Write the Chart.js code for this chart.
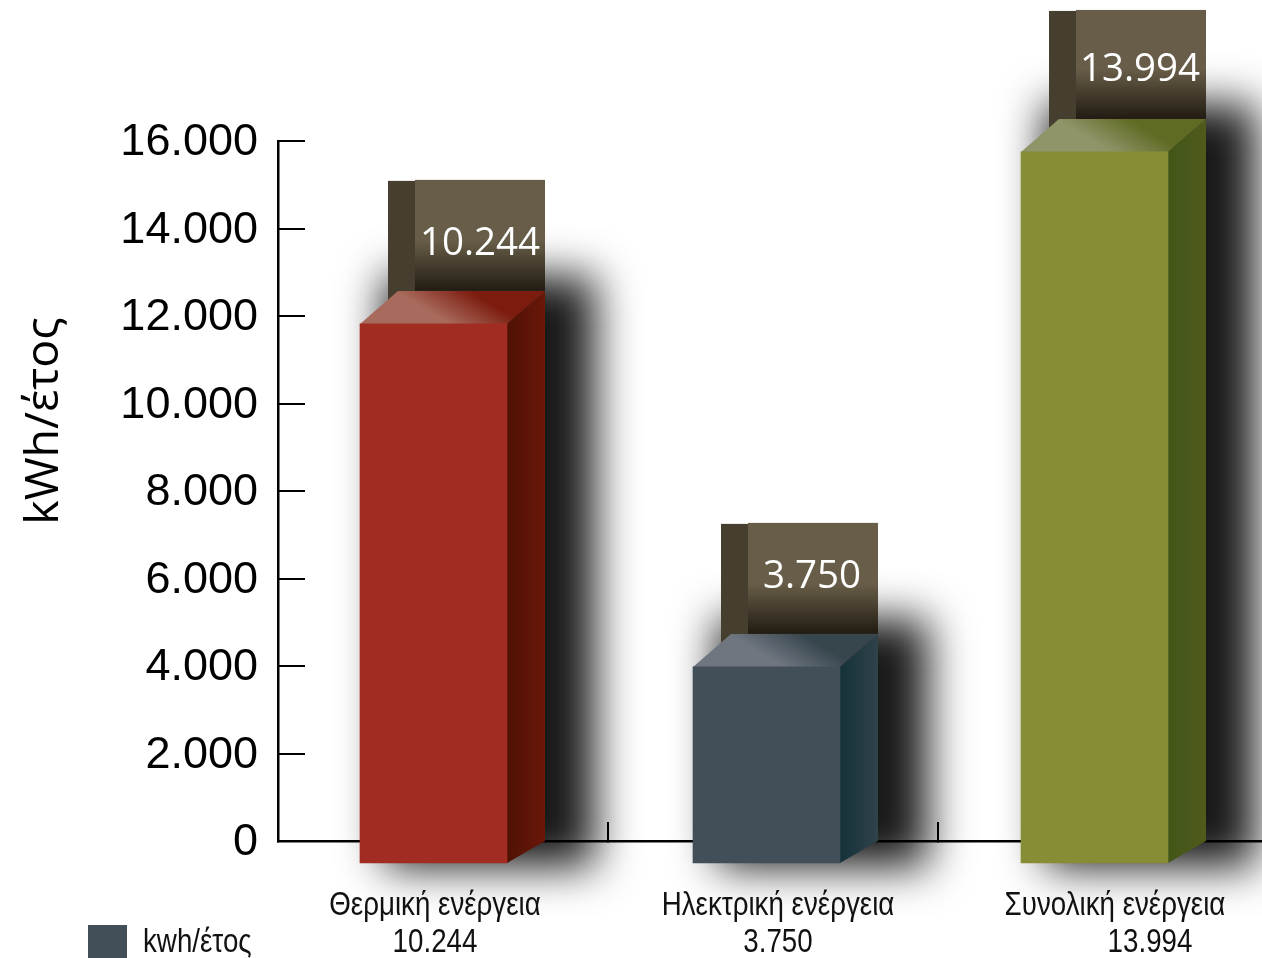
<!DOCTYPE html>
<html>
<head>
<meta charset="utf-8">
<title>kWh/έτος</title>
<script src="https://cdn.jsdelivr.net/npm/chart.js@4"></script>
<style>
    html, body { margin: 0; padding: 0; background: #fff; overflow: hidden; }
    #wrap { width: 1290px; height: 958px; }
</style>
</head>
<body>
<div id="wrap"><canvas id="energyChart" width="1290" height="958"></canvas></div>
<script>
// values as printed on the chart
const categories = ['Θερμική ενέργεια', 'Ηλεκτρική ενέργεια', 'Συνολική ενέργεια'];
const printedValues = ['10.244', '3.750', '13.994'];
// where the drawn boxes actually sit when read against the axis
const barTops = [11820, 3980, 15750];
const barBases = [-500, -500, -500];
const yTickLabels = ['0', '2.000', '4.000', '6.000', '8.000', '10.000', '12.000', '14.000', '16.000'];
const yTitle = 'kWh/έτος';
const legendLabel = 'kwh/έτος';

const frontColors = ['#a12c21', '#434f58', '#868d35'];
const sideColors = [['#4e1205', '#6b170a'], ['#15313a', '#30424a'], ['#415618', '#505a1c']];
const topColors = [['#7c1c0f', '#a86a5c'], ['#37454d', '#6f7680'], ['#5f6a22', '#8f9469']];
const barShift = [-9.5, -6.5, -8.5];
const tagHeights = [144, 144, 142];
const tagTextPos = [[120, 75], [119, 65], [119, 71]];
const labelPos = [[435, 435], [778, 778], [1115, 1150]];

const depthX = 38, depthY = 33, sideRise = 22;
const labelFont = '33px "Liberation Sans", sans-serif';
const labelSquash = 0.84; // reference uses a condensed face

function frontRect(bar) {
    const half = bar.width / 2;
    return { x1: bar.x - half, x2: bar.x + half, top: bar.y, bottom: bar.base };
}

function poly(ctx, pts, fill) {
    ctx.beginPath();
    pts.forEach((p, i) => i ? ctx.lineTo(p[0], p[1]) : ctx.moveTo(p[0], p[1]));
    ctx.closePath();
    ctx.fillStyle = fill;
    ctx.fill();
}

function narrowText(ctx, text, x, y) {
    ctx.save();
    ctx.translate(x, y);
    ctx.scale(labelSquash, 1);
    ctx.fillText(text, 0, 0);
    ctx.restore();
}

const box3d = {
    id: 'box3d',
    afterDatasetsUpdate(chart) {
        chart.getDatasetMeta(0).data.forEach((bar, i) => { bar.x += barShift[i]; });
    },
    // shadows go first so the axes stay on top of them
    beforeDraw(chart) {
        const ctx = chart.ctx;
        ctx.save();
        ctx.fillStyle = '#fff';
        ctx.fillRect(0, 0, chart.width, chart.height);
        ctx.filter = 'blur(22px)';
        ctx.fillStyle = '#181818';
        chart.getDatasetMeta(0).data.forEach(bar => {
            const r = frontRect(bar);
            ctx.fillRect(r.x1 + 24, r.top - 48, r.x2 - r.x1 + 64, r.bottom - r.top + 52);
        });
        ctx.restore();
    },
    beforeDatasetsDraw(chart) {
        const ctx = chart.ctx;
        ctx.save();
        chart.getDatasetMeta(0).data.forEach((bar, i) => {
            const r = frontRect(bar);
            const backTop = r.top - depthY;
            const right = r.x2 + depthX;
            const tagTop = r.top - tagHeights[i];

            // label tag behind the box
            ctx.fillStyle = '#463f30';
            ctx.fillRect(r.x1 + 28, tagTop + 1, 28, backTop - tagTop + 10);
            const tagGrad = ctx.createLinearGradient(0, backTop - 50, 0, backTop);
            tagGrad.addColorStop(0, '#675d48');
            tagGrad.addColorStop(1, '#211b12');
            ctx.fillStyle = tagGrad;
            ctx.fillRect(r.x1 + 55, tagTop, right - r.x1 - 55, backTop - tagTop);

            ctx.font = '38.5px "Open Sans", sans-serif';
            ctx.fillStyle = '#fff';
            ctx.textAlign = 'center';
            ctx.textBaseline = 'alphabetic';
            ctx.fillText(printedValues[i], r.x1 + tagTextPos[i][0], tagTop + tagTextPos[i][1]);

            // side face
            const sideGrad = ctx.createLinearGradient(r.x2, 0, right, 0);
            sideGrad.addColorStop(0, sideColors[i][0]);
            sideGrad.addColorStop(1, sideColors[i][1]);
            poly(ctx, [[r.x2, r.top], [right, backTop], [right, r.bottom - sideRise], [r.x2, r.bottom]], sideGrad);

            // top face
            const topGrad = ctx.createLinearGradient(r.x1 + 110, backTop, r.x1 + 90, r.top);
            topGrad.addColorStop(0, topColors[i][0]);
            topGrad.addColorStop(1, topColors[i][1]);
            poly(ctx, [[r.x1, r.top], [r.x1 + depthX, backTop], [right, backTop], [r.x2, r.top]], topGrad);
        });
        ctx.restore();
    },
    afterDraw(chart) {
        const ctx = chart.ctx;
        ctx.save();
        ctx.fillStyle = '#111';
        ctx.textBaseline = 'alphabetic';
        ctx.textAlign = 'center';
        ctx.font = labelFont;
        categories.forEach((name, i) => {
            narrowText(ctx, name, labelPos[i][0], 915);
            narrowText(ctx, printedValues[i], labelPos[i][1], 952);
        });

        // legend
        ctx.textAlign = 'left';
        narrowText(ctx, legendLabel, 143, 952);
        ctx.fillStyle = frontColors[1];
        ctx.fillRect(88, 925, 39, 33);

        // y axis title
        ctx.fillStyle = '#000';
        ctx.translate(58, 421);
        ctx.rotate(-Math.PI / 2);
        ctx.textAlign = 'center';
        ctx.font = '46.5px "Open Sans", sans-serif';
        ctx.fillText(yTitle, 0, 0);
        ctx.restore();
    }
};

new Chart(document.getElementById('energyChart').getContext('2d'), {
    type: 'bar',
    plugins: [box3d],
    data: {
        labels: categories,
        datasets: [{
            label: legendLabel,
            data: barTops.map((top, i) => [barBases[i], top]),
            backgroundColor: frontColors,
            borderWidth: 0,
            barThickness: 147,
            clip: false
        }]
    },
    options: {
        responsive: false,
        animation: false,
        layout: { padding: { left: 0, top: 141, right: 22, bottom: 117 } },
        plugins: {
            legend: { display: false },
            title: { display: false },
            tooltip: { enabled: false }
        },
        scales: {
            x: {
                grid: { color: '#000', lineWidth: 2, tickLength: -19, drawOnChartArea: false },
                border: { color: '#000', width: 2.5 },
                ticks: { display: false },
                afterFit: (scale) => { scale.height = 0; }
            },
            y: {
                min: 0,
                max: 16000,
                grid: { color: '#000', lineWidth: 2, tickLength: -27, drawOnChartArea: false },
                border: { color: '#000', width: 2.5 },
                ticks: {
                    stepSize: 2000,
                    padding: 47,
                    labelOffset: 2,
                    color: '#000',
                    font: { family: '"Liberation Sans", sans-serif', size: 45 },
                    callback: (value, index) => yTickLabels[index]
                },
                afterFit: (scale) => { scale.width = 278; }
            }
        }
    }
});
</script>
</body>
</html>
